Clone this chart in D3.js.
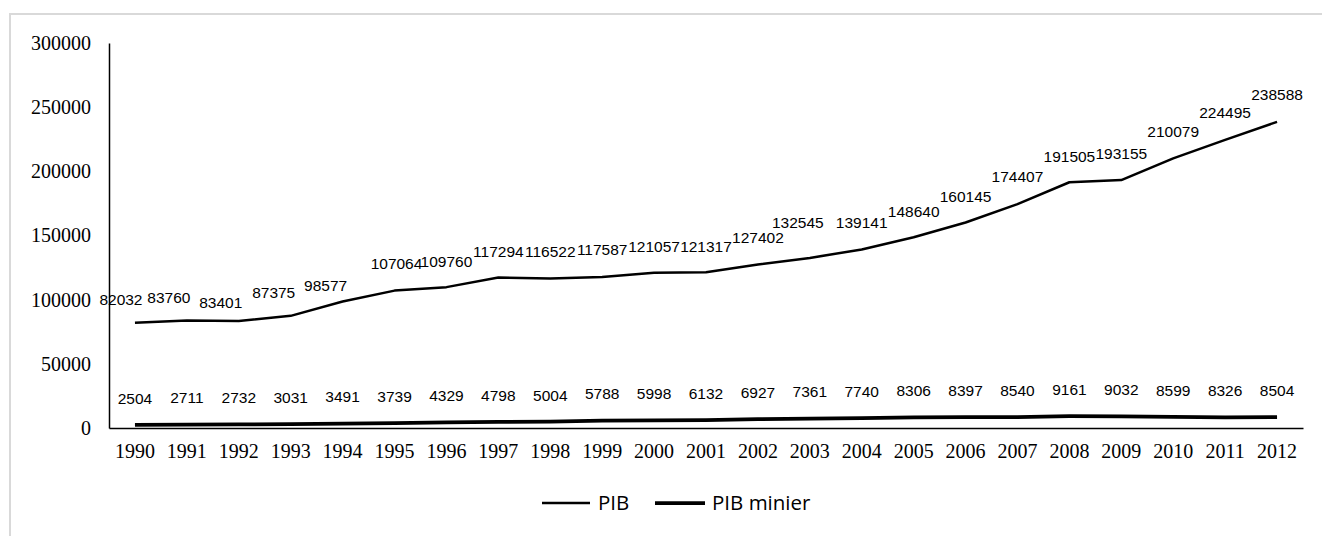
<!DOCTYPE html>
<html>
<head>
<meta charset="utf-8">
<script src="https://cdn.jsdelivr.net/npm/d3@7"></script>
<style>
  html, body { margin: 0; padding: 0; background: #fff; }
  svg { display: block; }
</style>
</head>
<body>
<svg id="chart" width="1322" height="536"></svg>
<script>
// ---- data ----
const years = ["1990","1991","1992","1993","1994","1995","1996","1997","1998","1999","2000","2001","2002","2003","2004","2005","2006","2007","2008","2009","2010","2011","2012"];
const pib = [82032,83760,83401,87375,98577,107064,109760,117294,116522,117587,121057,121317,127402,132545,139141,148640,160145,174407,191505,193155,210079,224495,238588];
const pibMinier = [2504,2711,2732,3031,3491,3739,4329,4798,5004,5788,5998,6132,6927,7361,7740,8306,8397,8540,9161,9032,8599,8326,8504];
const yTicks = [0,50000,100000,150000,200000,250000,300000];
const seriesNames = ["PIB","PIB minier"];

// ---- label layout nudges (manually moved labels in the original) ----
const pibLabelDx = [-14,-18,-18,-17,-17,2,0,0,0,0,0,0,0,-12,0,0,0,0,0,0,0,0,0];
const pibLabelDy = [-23,-22.5,-18,-23,-15.5,-27.5,-25.5,-25.5,-27,-28,-26.5,-26,-26.5,-35,-26.5,-26,-25.5,-28,-26,-27,-26.5,-27,-27];

const svg = d3.select("#chart");

// outer border (light gray)
svg.append("rect")
  .attr("x", 10).attr("y", 14)
  .attr("width", 1330).attr("height", 540)
  .attr("fill", "none").attr("stroke", "#d9d9d9").attr("stroke-width", 2);

const x = d3.scaleBand().domain(years).range([109, 1303]).padding(0);
const y = d3.scaleLinear().domain([0, 300000]).range([428, 43]);
const cx = d => x(d) + x.bandwidth() / 2;

// y axis
const yAxis = d3.axisLeft(y).tickValues(yTicks).tickSize(0).tickPadding(18).tickFormat(d3.format("d"));
const gy = svg.append("g").attr("transform", "translate(109,0)").call(yAxis);
gy.select(".domain").attr("stroke", "#000").attr("stroke-width", 1.5);
gy.selectAll("text")
  .attr("font-family", "'Liberation Serif','Times New Roman',serif")
  .attr("font-size", 20).attr("fill", "#000");

// x axis
const xAxis = d3.axisBottom(x).tickSize(0).tickPadding(16);
const gx = svg.append("g").attr("transform", "translate(0,428)").call(xAxis);
gx.select(".domain").attr("stroke", "#000").attr("stroke-width", 1.5);
gx.selectAll("text")
  .attr("font-family", "'Liberation Serif','Times New Roman',serif")
  .attr("font-size", 20).attr("fill", "#000");

const line = d3.line().x((d, i) => cx(years[i])).y(d => y(d));

svg.append("path").datum(pib)
  .attr("d", line).attr("fill", "none").attr("stroke", "#000")
  .attr("stroke-width", 2.5).attr("stroke-linejoin", "round");

svg.append("path").datum(pibMinier)
  .attr("d", line).attr("fill", "none").attr("stroke", "#000")
  .attr("stroke-width", 3.75).attr("stroke-linejoin", "round");

const labelFont = "'Liberation Sans', Arial, sans-serif";

svg.append("g").selectAll("text").data(pib).join("text")
  .attr("x", (d, i) => cx(years[i]) + pibLabelDx[i])
  .attr("y", (d, i) => y(d) + pibLabelDy[i])
  .attr("dy", "0.35em")
  .attr("text-anchor", "middle")
  .attr("font-family", labelFont).attr("font-size", 15.5).attr("fill", "#000")
  .text(d => d);

svg.append("g").selectAll("text").data(pibMinier).join("text")
  .attr("x", (d, i) => cx(years[i]))
  .attr("y", d => y(d) - 26.5)
  .attr("dy", "0.35em")
  .attr("text-anchor", "middle")
  .attr("font-family", labelFont).attr("font-size", 15.5).attr("fill", "#000")
  .text(d => d);

// legend
const legend = svg.append("g");
const legendItems = [
  { name: seriesNames[0], x1: 542, x2: 590, w: 2.5, tx: 598 },
  { name: seriesNames[1], x1: 655, x2: 705, w: 3.75, tx: 712 }
];
legendItems.forEach(it => {
  legend.append("line").attr("x1", it.x1).attr("x2", it.x2)
    .attr("y1", 503).attr("y2", 503).attr("stroke", "#000").attr("stroke-width", it.w);
  legend.append("text").attr("x", it.tx).attr("y", 503).attr("dy", "0.35em")
    .attr("font-family", "'Open Sans','Noto Sans',sans-serif").attr("font-size", 20.5)
    .attr("fill", "#000").text(it.name);
});
</script>
</body>
</html>
